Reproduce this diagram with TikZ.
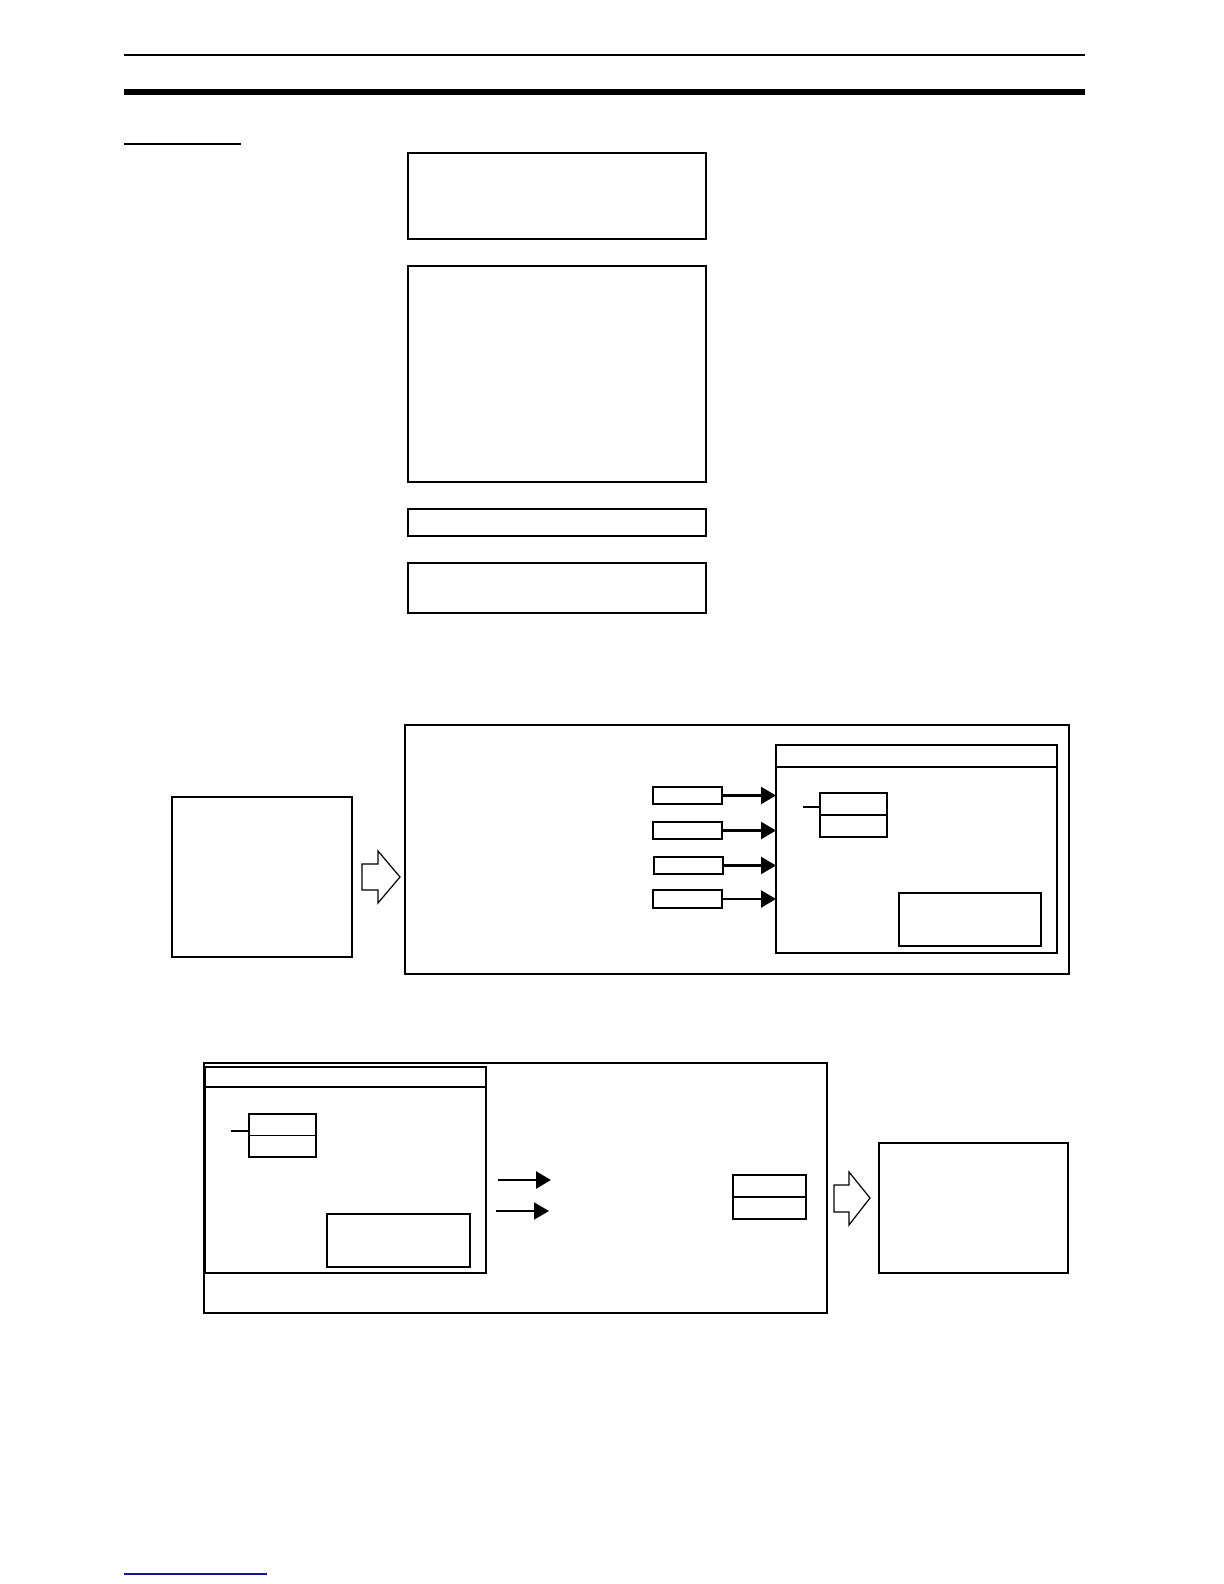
\documentclass[tikz,border=0pt]{standalone}
\usetikzlibrary{arrows.meta}
\definecolor{linkblue}{RGB}{20,20,150}
\newcommand\rbox[6][]{%
  \pgfmathsetmacro\bw{(#5-#3)*0.5}\pgfmathsetmacro\bh{(#6-#4)*0.5}%
  \pgfmathsetmacro\bx{(#3+#5)/2}\pgfmathsetmacro\by{(#4+#6)/2}%
  \node[box,#1,minimum width=\bw pt,minimum height=\bh pt] (#2) at (\bx,\by) {};}
\begin{document}
\begin{tikzpicture}[x=0.5pt,y=-0.5pt,
  box/.style={draw,line width=0.7pt,inner sep=0pt,outer sep=0pt},
  heavy/.style={line width=1.1pt},
  arr/.style={line width=1.2pt,-{Triangle[length=7.5pt,width=8.5pt]}},
  arrthin/.style={line width=0.8pt,-{Triangle[length=7.5pt,width=8.5pt]}},
  hollow/.style={draw,line width=0.6pt,fill=white,line join=miter}]
\useasboundingbox (0,0) rectangle (1224,1584);
% header rules
\draw[line width=1.2pt] (124,55) -- (1085,55);
\draw[line width=3pt] (124,92.5) -- (1085,92.5);
\draw[line width=1.1pt] (124,144) -- (241,144);
% upper column of boxes
\rbox{b1}{408}{153}{706}{239}
\rbox{b2}{408}{266}{706}{482}
\rbox{b3}{408}{509}{706}{536}
\rbox{b4}{408}{563}{706}{613}
% middle figure
\rbox[heavy]{mleft}{172}{797}{352}{957}
\draw[hollow] (362,864) -- (378,864) -- (378,851) -- (400,877) -- (378,903) -- (378,890) -- (362,890) -- cycle;
\rbox[heavy]{mbig}{405}{725}{1069}{974}
\rbox{minner}{776}{745}{1057}{953}
\coordinate (mh) at (776,767);
\draw[line width=0.7pt] (mh) -- (mh -| minner.east);
\rbox{ms1}{653}{787}{722}{804}
\rbox{ms2}{653}{822}{722}{839}
\rbox{ms3}{654}{857}{723}{874}
\rbox{ms4}{653}{890}{722}{908}
\draw[arr] (ms1.east) -- (ms1.east -| minner.west);
\draw[arr] (ms2.east) -- (ms2.east -| minner.west);
\draw[arr] (ms3.east) -- (ms3.east -| minner.west);
\draw[arr] (ms4.east) -- (ms4.east -| minner.west);
\rbox{mstk}{820}{793}{887}{837}
\draw[line width=0.7pt] (mstk.west) -- (mstk.east);
\coordinate (mstub) at (803,807);
\draw[line width=1.1pt] (mstub) -- (mstub -| mstk.west);
\rbox{mbox}{899}{893}{1041}{946}
% lower figure
\rbox[heavy]{lbig}{204}{1063}{827}{1313}
\rbox{linner}{205}{1067}{486}{1273}
\coordinate (lh) at (205,1087);
\draw[line width=0.7pt] (lh) -- (lh -| linner.east);
\rbox{lstk}{249}{1114}{316}{1157}
\draw[line width=0.7pt] (lstk.west) -- (lstk.east);
\coordinate (lstub) at (231,1131);
\draw[line width=0.7pt] (lstub) -- (lstub -| lstk.west);
\rbox{lbox}{327}{1214}{470}{1267}
\coordinate (la1) at (498,1180);
\coordinate (la1e) at (551,1180);
\draw[arr] (la1) -- (la1e);
\coordinate (la2) at (496,1211);
\coordinate (la2e) at (549,1211);
\draw[arrthin] (la2) -- (la2e);
\rbox{rstk}{733}{1175}{806}{1219}
\draw[line width=0.7pt] (rstk.west) -- (rstk.east);
\draw[hollow] (834,1185) -- (849,1185) -- (849,1172) -- (870,1198) -- (849,1225) -- (849,1212) -- (834,1212) -- cycle;
\rbox[heavy]{rbox}{879}{1143}{1068}{1273}
% footer link rule
\draw[linkblue,line width=0.6pt] (124,1574) -- (267,1574);
\end{tikzpicture}
\end{document}
